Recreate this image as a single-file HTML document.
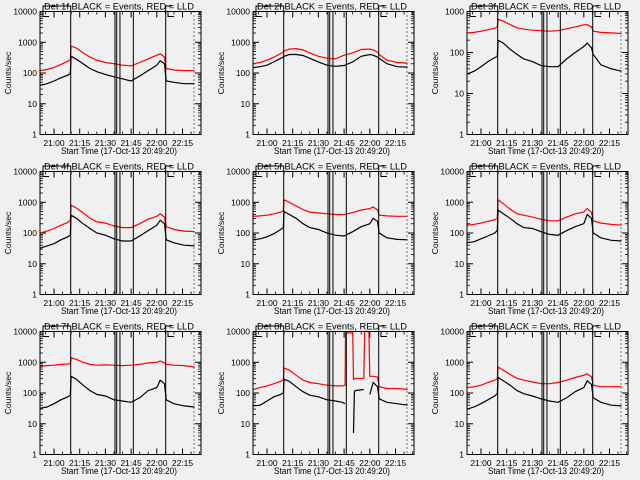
<!DOCTYPE html>
<html><head><meta charset="utf-8"><style>
html,body{margin:0;padding:0;background:#f0f0f0;}
svg{display:block;font-family:"Liberation Sans",sans-serif;}
</style></head><body>
<svg id="c" width="640" height="480" viewBox="0 0 640 480" xmlns="http://www.w3.org/2000/svg">
<rect width="640" height="480" fill="#f0f0f0"/>
</svg>
<script>
// minutes after 21:00
const T = [-8,-4,0,4,8,9.5,10,13,17,21,25,30,35,40,45,50,55,60,62,64.5,65.5,70,76,82];
const T8 = [-8,-4,0,4,8,9.5,10,13,17,21,25,30,35,40,44,45.6,45.8,50,50.5,51,51.5,56.5,57,59.5,60,62,64.5,65.5,70,76,82];
const detNames = ["1f","2f","3f","4f","5f","6f","7f","8f","9f"];
const yMaxes = [10000,10000,1000,10000,10000,10000,10000,10000,10000];
const b1 = [40,45,55,70,85,95,350,280,200,140,110,90,75,65,55,80,120,180,250,200,55,50,45,45];
const r1 = [120,130,150,190,240,270,750,650,450,330,260,220,200,180,170,220,290,380,420,330,140,125,120,120];
const b2 = [150,160,180,230,300,330,350,400,400,370,300,230,180,165,175,230,350,400,380,330,300,200,160,155];
const r2 = [200,220,260,330,430,480,520,600,620,560,450,350,300,290,380,450,580,600,560,480,400,260,220,210];
const b3 = [30,35,45,60,75,80,200,170,120,90,70,60,48,45,45,70,100,140,170,130,90,50,40,35];
const r3 = [300,310,330,360,390,420,650,580,480,400,370,350,340,330,340,380,420,470,480,420,330,310,300,290];
const b4 = [32,38,45,60,75,85,380,300,200,140,100,85,65,55,55,80,120,180,260,200,60,48,40,38];
const r4 = [100,115,140,180,220,260,800,650,450,300,230,210,170,150,150,200,280,350,420,330,160,130,115,110];
const b5 = [60,65,75,95,130,150,500,400,300,200,150,130,100,85,80,110,160,200,300,240,100,70,62,60];
const r5 = [350,360,380,420,480,520,1200,1000,750,580,480,450,420,400,400,460,560,620,700,560,380,360,350,350];
const b6 = [48,52,65,80,100,120,550,420,300,200,150,140,110,90,85,120,160,200,400,300,100,70,58,55];
const r6 = [180,190,210,240,270,300,1200,900,600,420,380,330,280,250,250,330,420,480,620,470,250,210,190,180];
const b7 = [32,35,45,60,75,85,350,280,180,120,90,80,60,55,50,70,120,150,260,200,60,45,38,35];
const r7 = [750,780,800,850,880,900,1400,1250,1000,850,800,820,800,780,800,850,950,1000,1100,950,850,800,780,700];
const b8 = [38,40,55,75,90,100,280,240,160,110,85,75,60,55,50,45,null,null,5,110,120,130,null,null,90,220,160,65,50,45,40];
const r8 = [130,150,170,200,240,270,650,550,380,260,220,200,180,170,170,180,9000,9000,280,280,300,300,10000,10000,350,350,330,160,140,140,130];
const b9 = [30,35,45,60,80,95,320,250,180,120,95,80,65,55,50,70,110,150,250,190,70,50,40,38];
const r9 = [150,160,180,220,260,290,700,550,400,300,260,230,200,200,220,260,320,380,420,340,180,160,160,160];
const eventTimes = [9.75,35.6,36.6,38.5,46.3,65.2];
const dottedTime = 81.7;
const xTickTimes = [0,15,30,45,60,75];
const xTickLabels = ["21:00","21:15","21:30","21:45","22:00","22:15"];

const blacks=[b1,b2,b3,b4,b5,b6,b7,b8,b9];
const reds=[r1,r2,r3,r4,r5,r6,r7,r8,r9];
const svg=document.getElementById('c');
const NS="http://www.w3.org/2000/svg";
function mk(tag,attrs,parent){const e=document.createElementNS(NS,tag);for(const k in attrs)e.setAttribute(k,attrs[k]);parent.appendChild(e);return e;}

const L=40,R=201,TOP=11.5,BOT=134.5;
for(let p=0;p<9;p++){
  const col=p%3,row=Math.floor(p/3);
  const g=mk('g',{transform:`translate(${Math.round(col*213.33)},${row*160})`},svg);
  
  
  const ymax=yMaxes[p];
  const dec=Math.log10(ymax);
  const X=t=>54+t*25.7/15;
  const Y=v=>BOT-(BOT-TOP)*Math.log10(v)/dec;
  // title
  const tt=mk('text',{x:119,y:9.5,'font-size':9.5,'text-anchor':'middle',textLength:150,lengthAdjust:'spacingAndGlyphs',fill:'#000'},g);
  tt.textContent='Det '+detNames[p]+' BLACK = Events, RED = LLD';
  
  
  // y title
  const yt=mk('text',{x:0,y:0,'font-size':8.5,'text-anchor':'middle',transform:'translate(11,73) rotate(-90)',fill:'#000'},g);
  yt.textContent='Counts/sec';
  
  
  // x title
  const xt=mk('text',{x:119,y:154,'font-size':9,'text-anchor':'middle',textLength:116,lengthAdjust:'spacingAndGlyphs',fill:'#000'},g);
  xt.textContent='Start Time (17-Oct-13 20:49:20)';
  
  
  // y ticks
  for(let d=0;d<=dec;d++){
    const v=Math.pow(10,d),y=Y(v);
    mk('line',{x1:L,x2:L+6,y1:y,y2:y,stroke:'#000','stroke-width':1},g);
    mk('line',{x1:R-6,x2:R,y1:y,y2:y,stroke:'#000','stroke-width':1},g);
    const lb=mk('text',{x:37,y:y+3,'font-size':8.5,'text-anchor':'end',fill:'#000'},g);
    lb.textContent=String(v);
    
    
    if(d<dec){for(let m=2;m<10;m++){const ym=Y(v*m);
      mk('line',{x1:L,x2:L+3,y1:ym,y2:ym,stroke:'#000','stroke-width':0.8},g);
      mk('line',{x1:R-3,x2:R,y1:ym,y2:ym,stroke:'#000','stroke-width':0.8},g);}}
  }
  // x ticks
  xTickTimes.forEach((t,i)=>{const x=X(t);
    mk('line',{x1:x,x2:x,y1:BOT,y2:BOT-6,stroke:'#000'},g);
    mk('line',{x1:x,x2:x,y1:TOP,y2:TOP+6,stroke:'#000'},g);
    const lb=mk('text',{x:x,y:146,'font-size':8.5,'text-anchor':'middle',fill:'#000'},g);
    lb.textContent=xTickLabels[i];
    
    
  });
  for(let t=-5;t<86;t+=5){if(t%15===0)continue;const x=X(t);
    mk('line',{x1:x,x2:x,y1:BOT,y2:BOT-3,stroke:'#000','stroke-width':0.8},g);
    mk('line',{x1:x,x2:x,y1:TOP,y2:TOP+3,stroke:'#000','stroke-width':0.8},g);}
  // series
  const tarr=(p===7)?T8:T;
  function path(arr){let d='',pen=false;arr.forEach((v,i)=>{if(v==null){pen=false;return;}
    d+=(pen?'L':'M')+X(tarr[i]).toFixed(1)+','+Y(v).toFixed(1);pen=true;});return d;}
  const rp=mk('path',{d:path(reds[p]),fill:'none',stroke:'#ff0000','stroke-width':1.2},g);
  
  
  const bp=mk('path',{d:path(blacks[p]),fill:'none',stroke:'#000','stroke-width':1.2},g);
  
  
  // event lines
  eventTimes.forEach(t=>{const x=X(t);
    const ln=mk('line',{x1:x,x2:x,y1:TOP,y2:BOT,stroke:'#000','stroke-width':1},g);
    
    });
  const dl=mk('line',{x1:X(dottedTime),x2:X(dottedTime),y1:TOP,y2:BOT,stroke:'#000','stroke-width':1,'stroke-dasharray':'1,3'},g);
  
  
  // brackets
  mk('path',{d:`M43,12V6H${X(eventTimes[0])}V12`,fill:'none',stroke:'#000'},g);
  mk('path',{d:`M${X(eventTimes[5])},12V6H${X(eventTimes[5])+6}`,fill:'none',stroke:'#000'},g);
  mk('path',{d:`M43,12V16.5H49`,fill:'none',stroke:'#000'},g);
  mk('path',{d:`M168,12V16.5H174`,fill:'none',stroke:'#000'},g);
  // box
  const bx=mk('rect',{x:L,y:TOP,width:R-L,height:BOT-TOP,fill:'none',stroke:'#000','stroke-width':1},g);
  
  
}
</script>
</body></html>
